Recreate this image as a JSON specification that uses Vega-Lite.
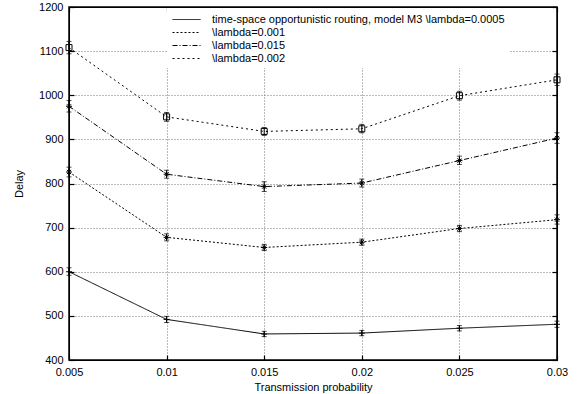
{
  "$schema": "https://vega.github.io/schema/vega-lite/v6.json",
  "width": 488,
  "height": 353,
  "autosize": {"type": "none"},
  "padding": {"left": 69, "top": 7, "right": 22, "bottom": 34},
  "background": "white",
  "config": {
    "font": "Liberation Sans",
    "view": {"stroke": "black", "strokeWidth": 1.5},
    "axis": {
      "labelFont": "Liberation Sans",
      "labelFontSize": 11,
      "labelColor": "black",
      "titleFont": "Liberation Sans",
      "titleFontSize": 11,
      "titleFontWeight": "normal",
      "titleColor": "black",
      "domainColor": "black",
      "tickColor": "black",
      "tickSize": -5,
      "tickWidth": 1.2
    },
    "legend": {
      "labelFont": "Liberation Sans",
      "labelFontSize": 11,
      "labelColor": "black"
    }
  },
  "data": {
    "values": [
      {"p": 0.005, "series": "time-space opportunistic routing, model M3 \\lambda=0.0005", "delay": 600, "lo": 592, "hi": 609},
      {"p": 0.01, "series": "time-space opportunistic routing, model M3 \\lambda=0.0005", "delay": 492, "lo": 485, "hi": 499},
      {"p": 0.015, "series": "time-space opportunistic routing, model M3 \\lambda=0.0005", "delay": 459, "lo": 453, "hi": 465},
      {"p": 0.02, "series": "time-space opportunistic routing, model M3 \\lambda=0.0005", "delay": 461, "lo": 455, "hi": 467},
      {"p": 0.025, "series": "time-space opportunistic routing, model M3 \\lambda=0.0005", "delay": 472, "lo": 466, "hi": 478},
      {"p": 0.03, "series": "time-space opportunistic routing, model M3 \\lambda=0.0005", "delay": 481, "lo": 474, "hi": 488},
      {"p": 0.005, "series": "\\lambda=0.001", "delay": 826, "lo": 815, "hi": 837},
      {"p": 0.01, "series": "\\lambda=0.001", "delay": 678, "lo": 670, "hi": 686},
      {"p": 0.015, "series": "\\lambda=0.001", "delay": 655, "lo": 648, "hi": 662},
      {"p": 0.02, "series": "\\lambda=0.001", "delay": 667, "lo": 660, "hi": 674},
      {"p": 0.025, "series": "\\lambda=0.001", "delay": 698, "lo": 691, "hi": 705},
      {"p": 0.03, "series": "\\lambda=0.001", "delay": 718, "lo": 708, "hi": 729},
      {"p": 0.005, "series": "\\lambda=0.015", "delay": 975, "lo": 962, "hi": 988},
      {"p": 0.01, "series": "\\lambda=0.015", "delay": 821, "lo": 812, "hi": 830},
      {"p": 0.015, "series": "\\lambda=0.015", "delay": 793, "lo": 782, "hi": 804},
      {"p": 0.02, "series": "\\lambda=0.015", "delay": 801, "lo": 792, "hi": 810},
      {"p": 0.025, "series": "\\lambda=0.015", "delay": 852, "lo": 843, "hi": 862},
      {"p": 0.03, "series": "\\lambda=0.015", "delay": 903, "lo": 891, "hi": 915},
      {"p": 0.005, "series": "\\lambda=0.002", "delay": 1108, "lo": 1094, "hi": 1122},
      {"p": 0.01, "series": "\\lambda=0.002", "delay": 951, "lo": 941, "hi": 961},
      {"p": 0.015, "series": "\\lambda=0.002", "delay": 918, "lo": 909, "hi": 927},
      {"p": 0.02, "series": "\\lambda=0.002", "delay": 924, "lo": 915, "hi": 934},
      {"p": 0.025, "series": "\\lambda=0.002", "delay": 999, "lo": 989, "hi": 1009},
      {"p": 0.03, "series": "\\lambda=0.002", "delay": 1035, "lo": 1022, "hi": 1048}
    ]
  },
  "resolve": {
    "axis": {"x": "independent", "y": "independent"},
    "legend": {"shape": "independent", "strokeDash": "independent"},
    "scale": {"shape": "independent", "strokeDash": "independent"}
  },
  "layer": [
    {
      "mark": {"type": "errorbar", "ticks": {"size": 5, "thickness": 1, "color": "black"}, "rule": {"color": "black", "strokeWidth": 1}},
      "encoding": {
        "x": {
          "field": "p", "type": "quantitative",
          "scale": {"domain": [0.005, 0.03], "nice": false, "zero": false},
          "axis": {
            "orient": "bottom",
            "title": "Transmission probability",
            "values": [0.005, 0.01, 0.015, 0.02, 0.025, 0.03],
            "format": "~g",
            "grid": true, "gridColor": "#777", "gridDash": [1, 2], "gridWidth": 1,
            "labelPadding": 11, "titlePadding": 4,
            "labelFlush": false
          }
        },
        "y": {
          "field": "lo", "type": "quantitative",
          "scale": {"domain": [400, 1200], "nice": false, "zero": false},
          "axis": {
            "orient": "left",
            "title": "Delay",
            "values": [400, 500, 600, 700, 800, 900, 1000, 1100, 1200],
            "format": "d",
            "grid": true, "gridColor": "#777", "gridDash": [1, 2], "gridWidth": 1,
            "labelPadding": 11, "titlePadding": 14,
            "labelFlush": false
          }
        },
        "y2": {"field": "hi"},
        "detail": {"field": "series"}
      }
    },
    {
      "mark": {"type": "line", "color": "black", "strokeWidth": 1},
      "encoding": {
        "x": {
          "field": "p", "type": "quantitative",
          "axis": {"orient": "top", "labels": false, "title": null, "grid": false, "values": [0.005, 0.01, 0.015, 0.02, 0.025, 0.03]}
        },
        "y": {
          "field": "delay", "type": "quantitative",
          "axis": {"orient": "right", "labels": false, "title": null, "grid": false, "values": [400, 500, 600, 700, 800, 900, 1000, 1100, 1200]}
        },
        "strokeDash": {
          "field": "series", "type": "nominal",
          "scale": {
            "domain": ["time-space opportunistic routing, model M3 \\lambda=0.0005", "\\lambda=0.001", "\\lambda=0.015", "\\lambda=0.002"],
            "range": [[1, 0], [2, 2], [5, 2, 1, 2], [2, 3]]
          },
          "legend": {
            "title": null,
            "orient": "none",
            "legendX": 98,
            "legendY": 1,
            "fillColor": "white",
            "padding": 4,
            "symbolType": "M-2,0L2,0",
            "symbolSize": 196,
            "symbolStrokeColor": "black",
            "symbolStrokeWidth": 1,
            "symbolOffset": 8,
            "rowPadding": 0,
            "labelOffset": 18,
            "labelLimit": 500
          }
        }
      }
    },
    {
      "mark": {"type": "point", "filled": false, "color": "black", "strokeWidth": 1, "opacity": 1},
      "encoding": {
        "x": {"field": "p", "type": "quantitative", "axis": null},
        "y": {"field": "delay", "type": "quantitative", "axis": null},
        "shape": {
          "field": "series", "type": "nominal",
          "scale": {
            "domain": ["time-space opportunistic routing, model M3 \\lambda=0.0005", "\\lambda=0.001", "\\lambda=0.015", "\\lambda=0.002"],
            "range": ["M-1,0L1,0M0,-1L0,1", "M-1,0L1,0M0,-1L0,1M-0.7,-0.7L0.7,0.7M-0.7,0.7L0.7,-0.7", "M-1,0L1,0M0,-1L0,1M-0.7,-0.7L0.7,0.7M-0.7,0.7L0.7,-0.7", "M-1,-1L1,-1L1,1L-1,1Z"]
          },
          "legend": null
        },
        "size": {"value": 36}
      }
    }
  ]
}
